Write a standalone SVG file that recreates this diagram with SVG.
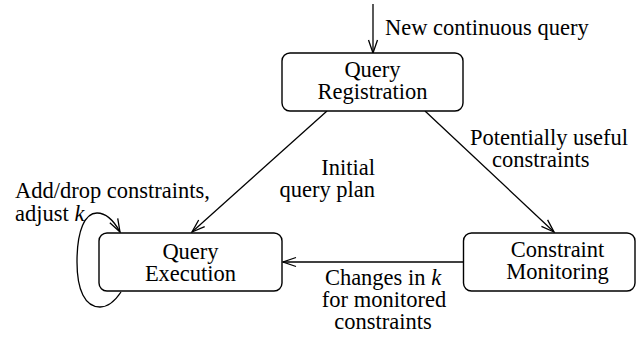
<svg xmlns="http://www.w3.org/2000/svg" width="636" height="337" viewBox="0 0 636 337">
<defs>
<marker id="ah" markerUnits="userSpaceOnUse" markerWidth="16" markerHeight="12" viewBox="0 0 16 12" refX="14" refY="6" orient="auto">
<path d="M1,1.5 L14,6 L1,10.5" fill="none" stroke="#000" stroke-width="1.3"/>
</marker>
</defs>
<g id="connectors" stroke="#000" stroke-width="1.3" fill="none">
<line x1="373" y1="4" x2="373" y2="53" marker-end="url(#ah)"/>
<line x1="327" y1="111" x2="192" y2="232" marker-end="url(#ah)"/>
<line x1="425" y1="111" x2="554" y2="232" marker-end="url(#ah)"/>
<line x1="463" y1="262" x2="283" y2="262" marker-end="url(#ah)"/>
<path d="M121,292 Q111,307 100,307 C85,307 77,290 77,262 C77,230 85,213 97,213 C106,213 114,221 120,232" marker-end="url(#ah)"/>
</g>
<g id="labels" font-family="Times New Roman, Liberation Serif, serif" font-size="22.5" fill="#000">
<text x="385" y="35">New continuous query</text>
<text x="375" y="175" text-anchor="end">Initial</text>
<text x="375" y="197" text-anchor="end">query plan</text>
<text x="470" y="145">Potentially useful</text>
<text x="492" y="167">constraints</text>
<text x="15" y="198">Add/drop constraints,</text>
<text x="15" y="221">adjust <tspan font-style="italic">k</tspan></text>
<text x="383" y="285" text-anchor="middle">Changes in <tspan font-style="italic">k</tspan></text>
<text x="384" y="307" text-anchor="middle">for monitored</text>
<text x="383" y="329" text-anchor="middle">constraints</text>
</g>
<g id="registration" font-family="Times New Roman, Liberation Serif, serif" font-size="22.5">
<rect x="282" y="53" width="181" height="58" rx="8" fill="#fff" stroke="#000" stroke-width="1.4"/>
<text x="372.5" y="77" text-anchor="middle">Query</text>
<text x="372.5" y="99" text-anchor="middle">Registration</text>
</g>
<g id="execution" font-family="Times New Roman, Liberation Serif, serif" font-size="22.5">
<rect x="99" y="233" width="183" height="58" rx="8" fill="#fff" stroke="#000" stroke-width="1.4"/>
<text x="190.5" y="259" text-anchor="middle">Query</text>
<text x="190.5" y="281" text-anchor="middle">Execution</text>
</g>
<g id="monitoring" font-family="Times New Roman, Liberation Serif, serif" font-size="22.5">
<rect x="463.5" y="233" width="171.5" height="58" rx="8" fill="#fff" stroke="#000" stroke-width="1.4"/>
<text x="557.5" y="257" text-anchor="middle">Constraint</text>
<text x="557.5" y="279" text-anchor="middle">Monitoring</text>
</g>
</svg>
